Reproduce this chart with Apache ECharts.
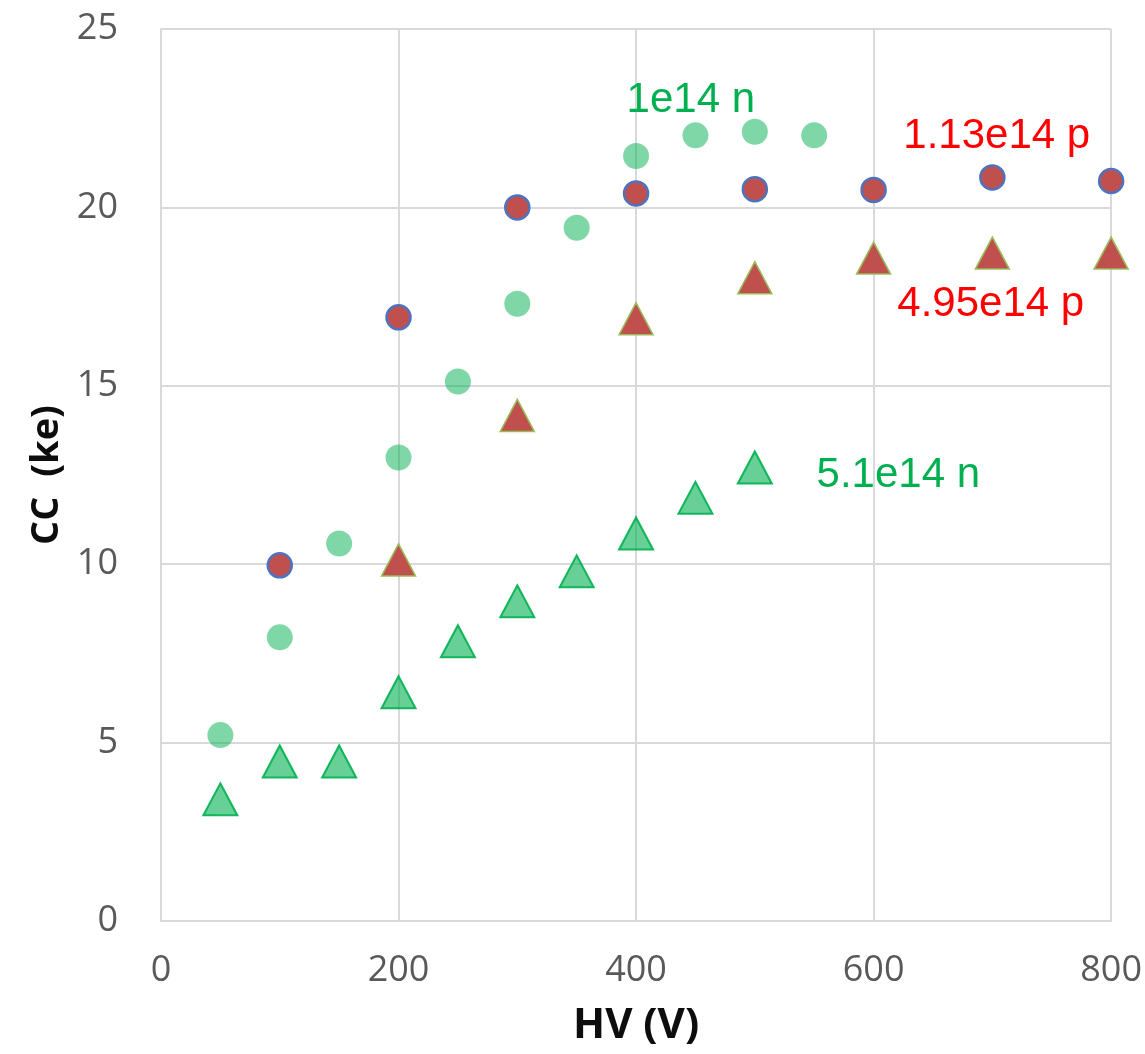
<!DOCTYPE html>
<html>
<head>
<meta charset="utf-8">
<script src="https://cdn.jsdelivr.net/npm/echarts@6/dist/echarts.min.js"></script>
<style>
  html, body { margin: 0; padding: 0; background: #fff; }
  #chart { width: 1145px; height: 1054px; }
</style>
</head>
<body>
<div id="chart"></div>
<script>
// Charge collection (ke) versus bias voltage HV (V) for four irradiated samples
const xTicks = [0, 200, 400, 600, 800];
const yTicks = [0, 5, 10, 15, 20, 25];

// 1e14 n (neutrons)
const hvN1 = [50, 100, 150, 200, 250, 300, 350, 400, 450, 500, 550];
const ccN1 = [5.21, 7.95, 10.58, 12.99, 15.12, 17.30, 19.43, 21.44, 22.02, 22.12, 22.02];

// 1.13e14 p (protons)
const hvP1 = [100, 200, 300, 400, 500, 600, 700, 800];
const ccP1 = [9.97, 16.92, 20.0, 20.39, 20.51, 20.49, 20.84, 20.74];

// 4.95e14 p (protons)
const hvP5 = [200, 300, 400, 500, 600, 700, 800];
const ccP5 = [10.12, 14.17, 16.88, 18.03, 18.58, 18.72, 18.72];

// 5.1e14 n (neutrons)
const hvN5 = [50, 100, 150, 200, 250, 300, 350, 400, 450, 500];
const ccN5 = [3.41, 4.47, 4.47, 6.41, 7.84, 8.96, 9.80, 10.86, 11.86, 12.71];

// Series annotations: text, colour, and anchor point in data units
const noteTexts  = ['1e14 n', '1.13e14 p', '4.95e14 p', '5.1e14 n'];
const noteColors = ['#00b050', '#ff0000', '#ff0000', '#00b050'];
const noteAnchors = [[392, 22.99], [625, 22.0], [620, 17.27], [552, 12.48]];

const zip = (xs, ys) => xs.map((x, i) => [x, ys[i]]);

const chart = echarts.init(document.getElementById('chart'), null, { renderer: 'canvas' });

const tickFont = { fontFamily: 'Open Sans', fontSize: 36, color: '#595959' };
const titleFont = { fontFamily: 'Open Sans', fontWeight: 'bold', color: '#0d0d0d' };

chart.setOption({
  animation: false,
  backgroundColor: '#ffffff',
  grid: { left: 161, right: 30, top: 29, bottom: 133, containLabel: false },
  xAxis: {
    type: 'value',
    min: xTicks[0], max: xTicks[xTicks.length - 1], interval: 200,
    name: 'HV (V)',
    nameLocation: 'middle',
    nameGap: 84,
    nameTextStyle: Object.assign({ fontSize: 42 }, titleFont),
    axisLine: { show: true, lineStyle: { color: '#d9d9d9', width: 2 } },
    axisTick: { show: false },
    axisLabel: Object.assign({ margin: 32 }, tickFont),
    splitLine: { show: true, lineStyle: { color: '#d9d9d9', width: 2 } }
  },
  yAxis: {
    type: 'value',
    min: yTicks[0], max: yTicks[yTicks.length - 1], interval: 5,
    name: 'CC  (ke)',
    nameLocation: 'middle',
    nameGap: 95,
    nameRotate: 90,
    nameTextStyle: Object.assign({ fontSize: 38 }, titleFont),
    axisLine: { show: true, lineStyle: { color: '#d9d9d9', width: 2 } },
    axisTick: { show: false },
    axisLabel: Object.assign({ margin: 43 }, tickFont),
    splitLine: { show: true, lineStyle: { color: '#d9d9d9', width: 2 } }
  },
  series: [
    {
      name: '5.1e14 n', type: 'scatter', symbol: 'triangle', symbolSize: [34, 32],
      data: zip(hvN5, ccN5),
      itemStyle: { color: 'rgba(0,176,80,0.6)', borderColor: 'rgba(0,176,80,0.9)', borderWidth: 2, opacity: 1 }
    },
    {
      name: '1e14 n', type: 'scatter', symbol: 'circle', symbolSize: 26,
      data: zip(hvN1, ccN1),
      itemStyle: { color: 'rgba(0,176,80,0.5)', borderWidth: 0, opacity: 1 }
    },
    {
      name: '4.95e14 p', type: 'scatter', symbol: 'triangle', symbolSize: [34, 32],
      data: zip(hvP5, ccP5),
      itemStyle: { color: '#c0504d', borderColor: '#9bbb59', borderWidth: 1.5, opacity: 1 }
    },
    {
      name: '1.13e14 p', type: 'scatter', symbol: 'circle', symbolSize: 24,
      data: zip(hvP1, ccP1),
      itemStyle: { color: '#c0504d', borderColor: '#4f72be', borderWidth: 2.5, opacity: 1 }
    }
  ]
});

// Place the series annotations at their data anchors
chart.setOption({
  graphic: noteTexts.map((t, i) => {
    const p = chart.convertToPixel({ gridIndex: 0 }, noteAnchors[i]);
    return {
      type: 'text', x: p[0], y: p[1], silent: true,
      style: {
        text: t, fill: noteColors[i],
        font: '42px "Liberation Sans", Arial, sans-serif',
        textAlign: 'left', textVerticalAlign: 'middle'
      }
    };
  })
});
</script>
</body>
</html>
